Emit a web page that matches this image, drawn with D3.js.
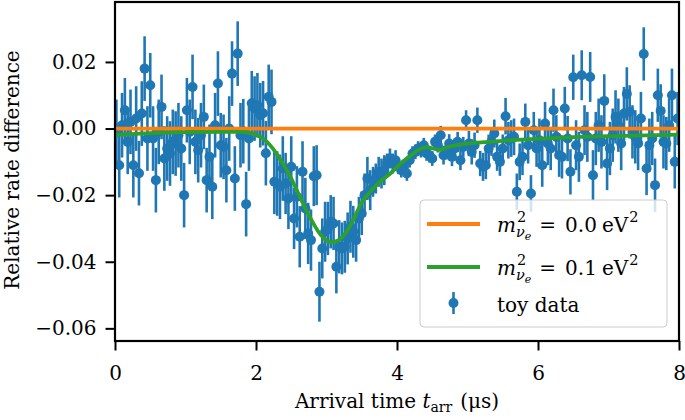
<!DOCTYPE html>
<html>
<head>
<meta charset="utf-8">
<script src="https://cdn.jsdelivr.net/npm/d3@7"></script>
<style>
  body { margin: 0; background: #fff; }
  text { font-family: "DejaVu Serif", "Liberation Serif", serif; fill: #000; }
</style>
</head>
<body>
<svg id="chart" width="685" height="420"></svg>
<script>
// toy data: bin centres (us), relative rate difference and its error
const times = [
  0.02, 0.06, 0.10, 0.14, 0.18, 0.22, 0.26, 0.30, 0.34, 0.38,
  0.42, 0.46, 0.50, 0.54, 0.58, 0.62, 0.66, 0.70, 0.74, 0.78,
  0.82, 0.86, 0.90, 0.94, 0.98, 1.02, 1.06, 1.10, 1.14, 1.18,
  1.22, 1.26, 1.30, 1.34, 1.38, 1.42, 1.46, 1.50, 1.54, 1.58,
  1.62, 1.66, 1.70, 1.74, 1.78, 1.82, 1.86, 1.90, 1.94, 1.98,
  2.02, 2.06, 2.10, 2.14, 2.18, 2.22, 2.26, 2.30, 2.34, 2.38,
  2.42, 2.46, 2.50, 2.54, 2.58, 2.62, 2.66, 2.70, 2.74, 2.78,
  2.82, 2.86, 2.90, 2.94, 2.98, 3.02, 3.06, 3.10, 3.14, 3.18,
  3.22, 3.26, 3.30, 3.34, 3.38, 3.42, 3.46, 3.50, 3.54, 3.58,
  3.62, 3.66, 3.70, 3.74, 3.78, 3.82, 3.86, 3.90, 3.94, 3.98,
  4.02, 4.06, 4.10, 4.14, 4.18, 4.22, 4.26, 4.30, 4.34, 4.38,
  4.42, 4.46, 4.50, 4.54, 4.58, 4.62, 4.66, 4.70, 4.74, 4.78,
  4.82, 4.86, 4.90, 4.94, 4.98, 5.02, 5.06, 5.10, 5.14, 5.18,
  5.22, 5.26, 5.30, 5.34, 5.38, 5.42, 5.46, 5.50, 5.54, 5.58,
  5.62, 5.66, 5.70, 5.74, 5.78, 5.82, 5.86, 5.90, 5.94, 5.98,
  6.02, 6.06, 6.10, 6.14, 6.18, 6.22, 6.26, 6.30, 6.34, 6.38,
  6.42, 6.46, 6.50, 6.54, 6.58, 6.62, 6.66, 6.70, 6.74, 6.78,
  6.82, 6.86, 6.90, 6.94, 6.98, 7.02, 7.06, 7.10, 7.14, 7.18,
  7.22, 7.26, 7.30, 7.34, 7.38, 7.42, 7.46, 7.50, 7.54, 7.58,
  7.62, 7.66, 7.70, 7.74, 7.78, 7.82, 7.86, 7.90, 7.94, 7.98
];
const rates = [
  -0.001, -0.011, 0.001, 0.0055, -0.004, 0.002, -0.011, 0.003, -0.0134, 0.0045,
  0.018, -0.003, 0.013, -0.003, -0.0155, -0.001, 0.0065, -0.009, -0.006, -0.0075,
  -0.004, -0.0045, -0.002, -0.006, -0.020, 0.0055, -0.001, 0.0125, -0.004, -0.0065,
  -0.002, 0.0035, -0.0155, -0.0085, -0.0175, 0.001, 0.0135, -0.005, -0.0055, -0.0125,
  0.0, 0.0165, -0.015, 0.0225, -0.002, -0.0008, -0.0227, -0.003, 0.0076, 0.006,
  0.007, 0.004, 0.0046, -0.0074, 0.0095, 0.008, -0.016, -0.0165, -0.0175, -0.012,
  -0.0165, -0.021, -0.0115, -0.027, -0.0205, -0.0325, -0.013, -0.024, -0.0315, -0.0335,
  -0.0143, -0.014, -0.049, -0.036, -0.031, -0.030, -0.028, -0.0285, -0.0415, -0.0355,
  -0.036, -0.0355, -0.033, -0.0295, -0.031, -0.0335, -0.027, -0.0255, -0.020, -0.015,
  -0.0185, -0.016, -0.015, -0.013, -0.0135, -0.0125, -0.0105, -0.009, -0.0105, -0.0095,
  -0.0115, -0.0125, -0.0115, -0.0135, -0.0095, -0.0075, -0.007, -0.006, -0.0065, -0.005,
  -0.0075, -0.008, -0.009, -0.004, -0.005, -0.002, -0.008, -0.0065, -0.0045, -0.0085,
  -0.006, -0.004, -0.0095, -0.0055, 0.0025, -0.0045, -0.007, -0.005, 0.0025, -0.0105,
  -0.0115, -0.011, -0.006, -0.004, -0.0015, -0.0085, -0.010, -0.006, 0.0037, -0.0035,
  -0.003, -0.0025, -0.019, -0.010, -0.0085, 0.002, -0.005, -0.0195, -0.0005, -0.006,
  -0.0035, -0.011, 0.0015, -0.0045, -0.006, 0.0055, -0.0025, -0.008, -0.0085, 0.006,
  -0.003, -0.013, 0.0154, -0.005, -0.0085, 0.016, -0.0005, -0.0025, 0.0155, -0.014,
  -0.003, 0.001, -0.004, 0.0083, -0.0105, -0.006, -0.002, 0.0035, 0.001, -0.0045,
  0.0045, 0.0104, 0.005, -0.001, -0.0025, -0.0045, 0.003, 0.0224, -0.012, -0.005,
  -0.003, -0.017, 0.010, 0.0053, -0.004, -0.0045, 0.001, 0.010, -0.010, 0.003
];
const errors = [
  0.0097, 0.0097, 0.0097, 0.0097, 0.0097, 0.0097, 0.0097, 0.0097, 0.0097, 0.0097,
  0.0097, 0.0097, 0.0097, 0.0097, 0.0097, 0.0097, 0.0097, 0.0097, 0.0097, 0.0097,
  0.0097, 0.0097, 0.0097, 0.0097, 0.0097, 0.0097, 0.0097, 0.0097, 0.0097, 0.0097,
  0.0097, 0.0097, 0.0097, 0.0097, 0.0097, 0.0097, 0.0097, 0.0097, 0.0097, 0.0097,
  0.0097, 0.0097, 0.0097, 0.0097, 0.0097, 0.0097, 0.0097, 0.0097, 0.0097, 0.0097,
  0.0097, 0.0097, 0.0097, 0.0097, 0.0097, 0.0097, 0.0097, 0.0097, 0.0097, 0.0097,
  0.0092, 0.0092, 0.0092, 0.0092, 0.0092, 0.0092, 0.0092, 0.0092, 0.0092, 0.0092,
  0.009, 0.009, 0.009, 0.009, 0.009, 0.008, 0.008, 0.008, 0.008, 0.008,
  0.0078, 0.0078, 0.0078, 0.0078, 0.0078, 0.0065, 0.0065, 0.0065, 0.0065, 0.0065,
  0.006, 0.0045, 0.0045, 0.0045, 0.0045, 0.0045, 0.003, 0.003, 0.003, 0.003,
  0.0022, 0.0022, 0.0022, 0.0022, 0.0022, 0.0022, 0.0022, 0.0022, 0.0022, 0.0022,
  0.0022, 0.0022, 0.0022, 0.0022, 0.0022, 0.0028, 0.0028, 0.0028, 0.0028, 0.0028,
  0.003, 0.003, 0.003, 0.003, 0.003, 0.0038, 0.0038, 0.0038, 0.0038, 0.0038,
  0.0042, 0.0042, 0.0042, 0.0042, 0.0042, 0.0042, 0.0042, 0.0042, 0.0055, 0.0055,
  0.0055, 0.0055, 0.0055, 0.0055, 0.0055, 0.0055, 0.0055, 0.0055, 0.0055, 0.0055,
  0.0065, 0.0065, 0.0065, 0.0065, 0.0065, 0.0065, 0.0065, 0.0065, 0.0065, 0.0065,
  0.0068, 0.0068, 0.0068, 0.0075, 0.0075, 0.0075, 0.0075, 0.0075, 0.0075, 0.0075,
  0.008, 0.008, 0.008, 0.008, 0.008, 0.008, 0.008, 0.008, 0.008, 0.008,
  0.008, 0.008, 0.008, 0.008, 0.008, 0.008, 0.008, 0.008, 0.008, 0.008,
  0.008, 0.008, 0.008, 0.008, 0.008, 0.008, 0.008, 0.008, 0.008, 0.008
];

// model curves
const nullTimes = [0, 8];
const nullRates = [0, 0];
const massTimes = [0, 0.5, 1.0, 1.5, 1.8, 1.95, 2.1, 2.22, 2.32, 2.41, 2.5, 2.6, 2.7, 2.8, 2.92, 3.0, 3.07,
  3.18, 3.3, 3.4, 3.5, 3.62, 3.75, 3.92, 4.05, 4.17, 4.3, 4.42, 4.6, 4.75, 4.9, 5.3, 5.9, 6.5, 7.2, 8.0];
const massRates = [-0.0019, -0.0014, -0.0011, -0.001, -0.001, -0.0015, -0.003, -0.0055, -0.0085, -0.0115,
  -0.015, -0.0195, -0.024, -0.028, -0.032, -0.0336, -0.0341, -0.0334, -0.0305, -0.0265, -0.0222, -0.019,
  -0.0162, -0.0132, -0.0105, -0.0085, -0.0065, -0.0056, -0.0064, -0.0054, -0.0048, -0.004, -0.0032,
  -0.0026, -0.0022, -0.0018];

const xTicks = [0, 2, 4, 6, 8];
const yTicks = [-0.06, -0.04, -0.02, 0, 0.02];
const massValues = ["0.0", "0.1"];

const fontSize = 20;
const svg = d3.select("#chart");
const margin = {top: 2, right: 6, bottom: 79, left: 115};
const width = 685 - margin.left - margin.right;
const height = 420 - margin.top - margin.bottom;

const g = svg.append("g").attr("transform", `translate(${margin.left},${margin.top})`);

var x = d3.scaleLinear().domain([0, 8]).range([0, width]);
var y = d3.scaleLinear().domain([-0.0638, 0.038]).range([height, 0]);

svg.append("clipPath").attr("id", "clip")
  .append("rect").attr("width", width).attr("height", height);

const plot = g.append("g").attr("clip-path", "url(#clip)");

// error bars + markers
const points = times.map((t, i) => ({t: t, r: rates[i], e: errors[i]}));
plot.append("g").selectAll("line")
  .data(points)
  .enter().append("line")
    .attr("x1", d => x(d.t)).attr("x2", d => x(d.t))
    .attr("y1", d => y(d.r - d.e)).attr("y2", d => y(d.r + d.e))
    .attr("stroke", "#1f77b4").attr("stroke-width", 2.6);
plot.append("g").selectAll("circle")
  .data(points)
  .enter().append("circle")
    .attr("cx", d => x(d.t)).attr("cy", d => y(d.r))
    .attr("r", 5).attr("fill", "#1f77b4");

var lineGenerator = d3.line()
  .x(d => x(d[0]))
  .y(d => y(d[1]))
  .curve(d3.curveMonotoneX);

plot.append("path")
  .attr("d", lineGenerator(d3.zip(nullTimes, nullRates)))
  .attr("fill", "none").attr("stroke", "#ff7f0e").attr("stroke-width", 3.8);
plot.append("path")
  .attr("d", lineGenerator(d3.zip(massTimes, massRates)))
  .attr("fill", "none").attr("stroke", "#2ca02c").attr("stroke-width", 3.8);

// axes
const xAxis = g.append("g")
  .attr("transform", `translate(0,${height})`)
  .call(d3.axisBottom(x).tickValues(xTicks).tickSize(9.5).tickPadding(15).tickFormat(d3.format("d")));
const yAxis = g.append("g")
  .call(d3.axisLeft(y).tickValues(yTicks).tickSize(9.5).tickPadding(9).tickFormat(d3.format(".2f")));
[xAxis, yAxis].forEach(a => {
  a.attr("font-family", null).attr("font-size", null);
  a.select(".domain").remove();
  a.selectAll("line").attr("stroke", "#000").attr("stroke-width", 2);
  a.selectAll("text").attr("font-size", fontSize).attr("fill", "#000");
});

g.append("rect")
  .attr("width", width).attr("height", height)
  .attr("fill", "none").attr("stroke", "#000").attr("stroke-width", 2.2);

svg.append("text")
  .attr("x", margin.left + width / 2).attr("y", 408)
  .attr("text-anchor", "middle").attr("font-size", fontSize)
  .call(t => {
    t.append("tspan").text("Arrival time ");
    t.append("tspan").attr("font-style", "italic").text("t");
    t.append("tspan").attr("font-size", 14).attr("dy", 4).text("arr");
    t.append("tspan").attr("dy", -4).attr("dx", 8).text("(μs)");
  });

svg.append("text")
  .attr("transform", "translate(19,170) rotate(-90)")
  .attr("text-anchor", "middle").attr("font-size", fontSize)
  .text("Relative rate difference");

// legend
const leg = svg.append("g");
leg.append("rect")
  .attr("x", 420).attr("y", 200).attr("width", 247).attr("height", 127).attr("rx", 4)
  .attr("fill", "#fff").attr("fill-opacity", 0.8)
  .attr("stroke", "#cccccc").attr("stroke-width", 1);

const rowY = [224, 267, 303];
const rowColors = ["#ff7f0e", "#2ca02c"];
rowColors.forEach((c, i) => {
  leg.append("line")
    .attr("x1", 427).attr("x2", 480).attr("y1", rowY[i]).attr("y2", rowY[i])
    .attr("stroke", c).attr("stroke-width", 3.8);
});
leg.append("line")
  .attr("x1", 453.5).attr("x2", 453.5).attr("y1", rowY[2] - 11).attr("y2", rowY[2] + 11)
  .attr("stroke", "#1f77b4").attr("stroke-width", 2.6);
leg.append("circle").attr("cx", 453.5).attr("cy", rowY[2]).attr("r", 5).attr("fill", "#1f77b4");

function mathLabel(value, base) {
  let cx = 497;
  function put(str, size, dy, italic, gap) {
    const t = leg.append("text")
      .attr("x", cx + gap).attr("y", base + dy)
      .attr("font-size", size)
      .attr("font-style", italic ? "italic" : "normal")
      .text(str);
    return t.node().getComputedTextLength();
  }
  cx += put("m", fontSize, 0, true, 0);
  const w2 = put("2", 14.5, -10, false, 1);
  const wn = put("ν", 14.5, 5, true, 0);
  const we = put("e", 11, 8, true, wn);
  cx += Math.max(w2 + 1, wn + we) + 8;
  cx += put("=", fontSize, 0, false, 0) + 9;
  cx += put(value, fontSize, 0, false, 0) + 5;
  cx += put("eV", fontSize, 0, false, 0);
  put("2", 14.5, -10, false, 1);
}
massValues.forEach((v, i) => mathLabel(v, rowY[i] + 8));
leg.append("text").attr("x", 497).attr("y", rowY[2] + 9).attr("font-size", fontSize).text("toy data");
</script>
</body>
</html>
